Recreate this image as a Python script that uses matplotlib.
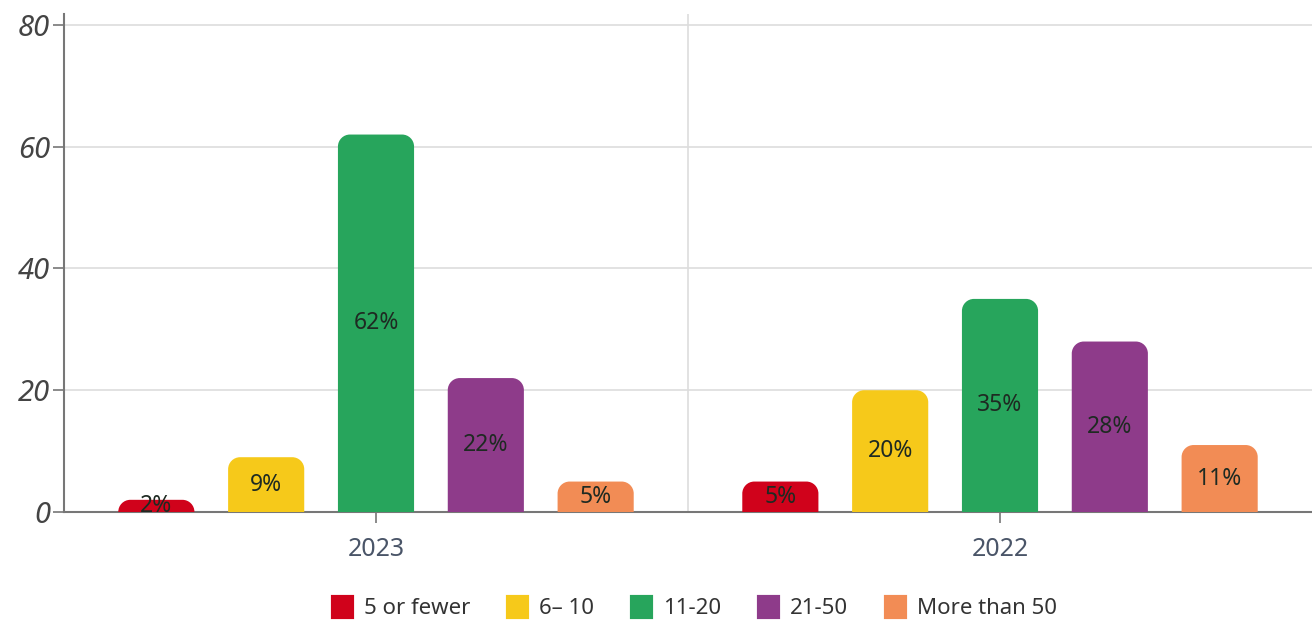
import matplotlib
matplotlib.use("Agg")
import matplotlib.pyplot as plt
import numpy as np
from matplotlib.path import Path
from matplotlib.patches import PathPatch, Patch

years = ["2023", "2022"]
groups = ["5 or fewer", "6\u2013 10", "11-20", "21-50", "More than 50"]
values = {
    "5 or fewer": [2, 5],
    "6\u2013 10": [9, 20],
    "11-20": [62, 35],
    "21-50": [22, 28],
    "More than 50": [5, 11],
}
colors = ["#d0021b", "#f6c91a", "#27a55c", "#8e3b8a", "#f28c55"]
yticks = [0, 20, 40, 60, 80]

plt.rcParams['font.family'] = ['Noto Sans', 'DejaVu Sans']

W, H = 1312, 622
fig = plt.figure(figsize=(W / 100, H / 100), dpi=100)
ax = fig.add_axes([64 / W, 1 - 512 / H, 1 - 64 / W, (512 - 14) / H])

ax.set_xlim(-0.5, 1.5)
ax.set_ylim(0, 81.8)

# pixel -> data scale factors for rounding the bar tops
px_x = 2.0 / (W - 64)
px_y = 81.8 / (512 - 14)


def rounded_top(x0, w, h, r_px=12):
    rx = min(r_px * px_x, w / 2)
    ry = min(r_px * px_y, h)
    k = 0.5523
    x1 = x0 + w
    verts = [
        (x0, 0), (x0, h - ry),
        (x0, h - ry + k * ry), (x0 + rx - k * rx, h), (x0 + rx, h),
        (x1 - rx, h),
        (x1 - rx + k * rx, h), (x1, h - ry + k * ry), (x1, h - ry),
        (x1, 0), (x0, 0),
    ]
    codes = [Path.MOVETO, Path.LINETO,
             Path.CURVE4, Path.CURVE4, Path.CURVE4,
             Path.LINETO,
             Path.CURVE4, Path.CURVE4, Path.CURVE4,
             Path.LINETO, Path.CLOSEPOLY]
    return Path(verts, codes)


x = np.arange(len(years))
step = 0.176
width = 0.122
for i, g in enumerate(groups):
    offs = (i - 2) * step
    bars = ax.bar(x + offs, values[g], width, color=colors[i], label=g)
    for b, v in zip(bars, values[g]):
        b.set_visible(False)
        ax.add_patch(PathPatch(rounded_top(b.get_x(), b.get_width(), b.get_height()),
                               facecolor=colors[i], edgecolor='none', zorder=3))
        ax.text(b.get_x() + b.get_width() / 2, v / 2, f"{v}%", ha='center', va='center',
                fontsize=16.5, color='#1e2a22', zorder=4)

# grid
ax.set_yticks(yticks)
ax.set_yticklabels([str(t) for t in yticks], fontsize=21, style='italic', color='#444444')
ax.yaxis.grid(True, color='#dddddd', linewidth=1.2, zorder=0)
ax.axvline(0.5, color='#dddddd', linewidth=1.2, zorder=0)
ax.set_axisbelow(True)

ax.set_xticks(x)
ax.set_xticklabels(years, fontsize=18, color='#4a5568')
ax.tick_params(axis='x', length=8, width=1.2, color='#777777', pad=10)
ax.tick_params(axis='y', length=8, width=1.2, color='#777777', pad=2)

for s in ['top', 'right']:
    ax.spines[s].set_visible(False)
for s in ['left', 'bottom']:
    ax.spines[s].set_color('#777777')
    ax.spines[s].set_linewidth(1.5)

handles = [Patch(facecolor=c, edgecolor=c, linewidth=3, joinstyle='round') for c in colors]
fig.legend(handles, groups, loc='center', bbox_to_anchor=(695 / W, 1 - 608 / H),
           ncol=5, frameon=False, fontsize=16, handlelength=0.85, handleheight=1.0,
           handletextpad=0.55, columnspacing=1.7, labelcolor='#333333')

fig.savefig("out.png", dpi=100)
